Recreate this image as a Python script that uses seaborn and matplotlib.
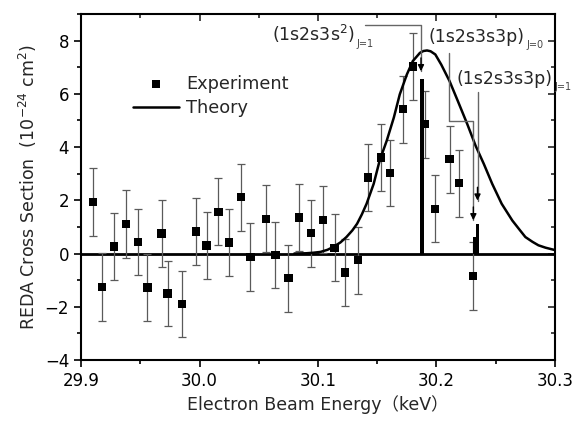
import matplotlib
matplotlib.use("Agg")
import matplotlib.pyplot as plt
from matplotlib.ticker import MultipleLocator
import seaborn as sns
import pandas as pd

# experiment points (keV, 1e-24 cm^2)
energy = [29.910, 29.918, 29.928, 29.938, 29.948, 29.956, 29.968, 29.973,
          29.985, 29.997, 30.006, 30.016, 30.025, 30.035, 30.043, 30.056,
          30.064, 30.075, 30.084, 30.094, 30.104, 30.114, 30.123, 30.134,
          30.142, 30.153, 30.161, 30.172, 30.180, 30.190, 30.199, 30.211,
          30.219, 30.231]
cross = [1.94, -1.25, 0.27, 1.11, 0.43, -1.27, 0.75, -1.50,
         -1.90, 0.83, 0.30, 1.57, 0.41, 2.12, -0.13, 1.31,
         -0.05, -0.93, 1.36, 0.77, 1.27, 0.22, -0.71, -0.25,
         2.86, 3.61, 3.03, 5.42, 7.03, 4.86, 1.68, 3.54,
         2.64, -0.85]
err = [1.27, 1.27, 1.25, 1.26, 1.25, 1.26, 1.25, 1.23,
       1.24, 1.25, 1.25, 1.25, 1.25, 1.26, 1.26, 1.25,
       1.25, 1.25, 1.25, 1.26, 1.25, 1.26, 1.25, 1.26,
       1.26, 1.26, 1.25, 1.25, 1.25, 1.26, 1.26, 1.25,
       1.25, 1.27]

# theory curve
theory_e = [30.080, 30.090, 30.096, 30.102, 30.108, 30.113, 30.119, 30.124,
            30.129, 30.133, 30.137, 30.141, 30.147, 30.152, 30.158, 30.164,
            30.169, 30.175, 30.180, 30.186, 30.189, 30.192, 30.195, 30.199,
            30.204, 30.211, 30.218, 30.226, 30.233, 30.240, 30.247, 30.255,
            30.264, 30.270, 30.275, 30.281, 30.286, 30.292, 30.300]
theory_y = [0.00, 0.01, 0.03, 0.06, 0.14, 0.25, 0.42, 0.62,
            0.87, 1.12, 1.47, 1.87, 2.62, 3.49, 4.24, 5.11,
            5.98, 6.73, 7.23, 7.54, 7.61, 7.63, 7.60, 7.48,
            7.10, 6.48, 5.73, 4.86, 4.05, 3.36, 2.62, 1.87,
            1.24, 0.90, 0.62, 0.44, 0.31, 0.22, 0.13]

# resonance strengths (sticks)
line_e = [30.1878, 30.2320, 30.2346]
line_h = [6.54, 0.62, 1.12]

labels = ["(1s2s3s$^{2}$)", "(1s2s3s3p)", "(1s2s3s3p)"]
label_xy = [(30.061, 7.97), (30.193, 7.95), (30.2165, 6.38)]
sub_labels = ["J=1", "J=0", "J=1"]
arrow_paths = [
    [(30.1397, 8.57), (30.1869, 8.57), (30.1869, 6.85)],
    [(30.2105, 7.54), (30.2105, 4.98), (30.2311, 4.98), (30.2311, 1.25)],
    [(30.2346, 6.07), (30.2346, 1.99)],
]

sns.set_theme(style="ticks")
plt.rcParams["font.family"] = ["DejaVu Sans", "Noto Sans CJK JP"]
plt.rcParams["mathtext.default"] = "regular"
plt.rcParams["mathtext.fontset"] = "dejavusans"

exp = pd.DataFrame({"energy": energy, "cross": cross, "err": err})
theo = pd.DataFrame({"energy": theory_e, "cross": theory_y})

fig = plt.figure(figsize=(5.78, 4.23), dpi=100)
ax = fig.add_axes([81 / 578, 1 - 360 / 423, 474 / 578, 346 / 423])

ax.axhline(0, color="black", lw=2, zorder=1)

ax.errorbar(exp["energy"], exp["cross"], yerr=exp["err"], fmt="none",
            ecolor="#5a5a5a", elinewidth=0.9, capsize=3, capthick=0.9, zorder=3)
sns.scatterplot(data=exp, x="energy", y="cross", marker="s", s=36,
                color="black", edgecolor="none", label="Experiment", ax=ax, zorder=4)
sns.lineplot(data=theo, x="energy", y="cross", color="black", lw=1.8,
             label="Theory", ax=ax, zorder=5)
ax.bar(line_e, line_h, width=0.0032, color="black", edgecolor="black",
       linewidth=0, zorder=6)

for path in arrow_paths:
    xs = [p[0] for p in path]
    ys = [p[1] for p in path]
    ax.plot(xs, ys, color="#666666", lw=1, zorder=6)
    ax.annotate("", xy=path[-1], xytext=(path[-1][0], path[-1][1] + 0.5),
                arrowprops=dict(arrowstyle="-|>", color="black", lw=1,
                                mutation_scale=9, shrinkA=0, shrinkB=0), zorder=7)

for txt, sub, (x, y) in zip(labels, sub_labels, label_xy):
    t = ax.text(x, y, txt, fontsize=12.5, va="baseline", ha="left", zorder=8)
    ax.annotate(sub, xy=(1, 0), xycoords=t, xytext=(1.5, -1.5),
                textcoords="offset points", fontsize=7, color="#444444",
                va="baseline", ha="left", zorder=8)

ax.set_xlim(29.9, 30.3)
ax.set_ylim(-4, 9)
ax.xaxis.set_major_locator(MultipleLocator(0.1))
ax.xaxis.set_minor_locator(MultipleLocator(0.05))
ax.yaxis.set_major_locator(MultipleLocator(2))
ax.yaxis.set_minor_locator(MultipleLocator(1))
ax.set_yticks([-4, -2, 0, 2, 4, 6, 8])
ax.tick_params(which="both", direction="out", labelsize=12, width=1.2, colors="black")
ax.tick_params(which="major", length=5)
ax.tick_params(which="minor", length=3)
for sp in ax.spines.values():
    sp.set_linewidth(1.5)
    sp.set_color("black")

top = ax.secondary_xaxis("top")
top.xaxis.set_major_locator(MultipleLocator(0.1))
top.xaxis.set_minor_locator(MultipleLocator(0.05))
top.tick_params(which="both", direction="in", labeltop=False, width=1.2)
top.tick_params(which="major", length=5)
top.tick_params(which="minor", length=3)
right = ax.secondary_yaxis("right")
right.yaxis.set_major_locator(MultipleLocator(2))
right.yaxis.set_minor_locator(MultipleLocator(1))
right.tick_params(which="both", direction="in", labelright=False, width=1.2)
right.tick_params(which="major", length=5)
right.tick_params(which="minor", length=3)

ax.set_xlabel("Electron Beam Energy（keV）", fontsize=12.5)
ax.set_ylabel("REDA Cross Section  (10$^{-24}$ cm$^{2}$)", fontsize=12.5)

ax.legend(loc="upper left", bbox_to_anchor=(0.11, 0.825), frameon=False,
          fontsize=12.8, handlelength=2.6, handletextpad=0.4,
          borderpad=0, borderaxespad=0, labelspacing=0.35)

fig.savefig("out.png", dpi=100)
